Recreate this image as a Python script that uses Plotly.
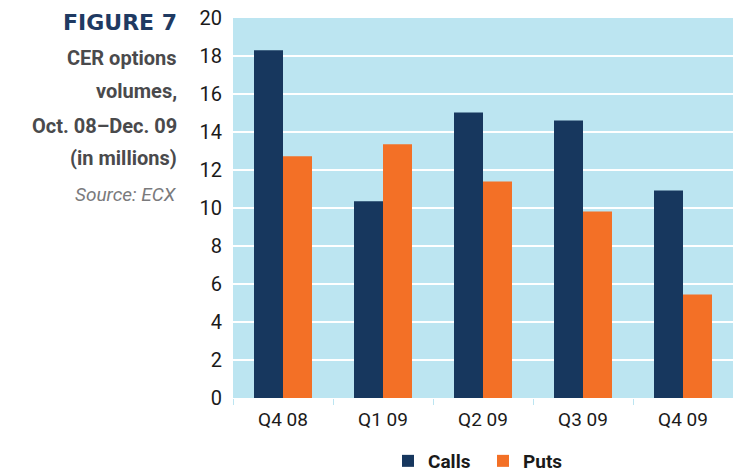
import plotly.graph_objects as go

quarters = ["Q4 08", "Q1 09", "Q2 09", "Q3 09", "Q4 09"]
calls = [18.3, 10.35, 15.03, 14.6, 10.92]
puts = [12.72, 13.35, 11.4, 9.82, 5.45]

NAVY = "#17375E"
ORANGE = "#F37026"
PANEL = "#BCE5F1"
NARROW = "Roboto, DejaVu Sans Condensed, sans-serif"

fig = go.Figure()
fig.add_trace(go.Bar(name="Calls", x=quarters, y=calls, marker_color=NAVY,
                     marker_line_width=0))
fig.add_trace(go.Bar(name="Puts", x=quarters, y=puts, marker_color=ORANGE,
                     marker_line_width=0))

L, R, T, B = 233, 0, 18, 75
W, H = 733, 473
pw, ph = W - L - R, H - T - B


def px_x(x):
    return (x - L) / pw


def px_y(y):
    return (H - B - y) / ph


fig.update_layout(
    width=W, height=H,
    margin=dict(l=L, r=R, t=T, b=B, autoexpand=False),
    paper_bgcolor="white",
    plot_bgcolor=PANEL,
    barmode="group",
    bargap=0.42,
    bargroupgap=0,
    showlegend=True,
    legend=dict(
        orientation="h", x=0.5, xanchor="center",
        yref="container", y=(H - 461) / H, yanchor="middle",
        font=dict(family=NARROW, size=19, color="#1A1A1A", weight="bold"),
        itemsizing="constant", entrywidth=50, traceorder="normal",
        tracegroupgap=0,
    ),
    xaxis=dict(
        type="category",
        tickson="boundaries",
        ticks="outside", ticklen=6, tickwidth=1, tickcolor=PANEL,
        ticklabelstandoff=8,
        showline=False, showgrid=False,
        tickfont=dict(family=NARROW, size=19, color="#1A1A1A"),
    ),
    yaxis=dict(
        range=[0, 20], dtick=2, tick0=0,
        showgrid=True, gridcolor="white", gridwidth=1.6,
        zeroline=False, showline=False,
        ticks="outside", ticklen=6, tickcolor="rgba(0,0,0,0)",
        tickfont=dict(family=NARROW, size=20, color="#1A1A1A"),
    ),
)

title_lines = [
    ("FIGURE 7", 22, "DejaVu Sans, sans-serif", "#1F3A62", "bold", "normal", 22),
    ("CER options", 58, NARROW, "#4A4A4C", "bold", "normal", 20),
    ("volumes,", 91, NARROW, "#4A4A4C", "bold", "normal", 20),
    ("Oct. 08\u2013Dec. 09", 126, NARROW, "#4A4A4C", "bold", "normal", 20),
    ("(in millions)", 158, NARROW, "#4A4A4C", "bold", "normal", 20),
    ("Source: ECX", 194, NARROW, "#7A7A7C", "normal", "italic", 19),
]
for text, ymid, fam, col, wt, sty, sz in title_lines:
    fig.add_annotation(
        text=text, xref="paper", yref="paper",
        x=px_x(179), y=px_y(ymid), xanchor="right", yanchor="middle",
        showarrow=False,
        font=dict(family=fam, size=sz, color=col, weight=wt, style=sty),
    )

fig.write_html("out.html")
